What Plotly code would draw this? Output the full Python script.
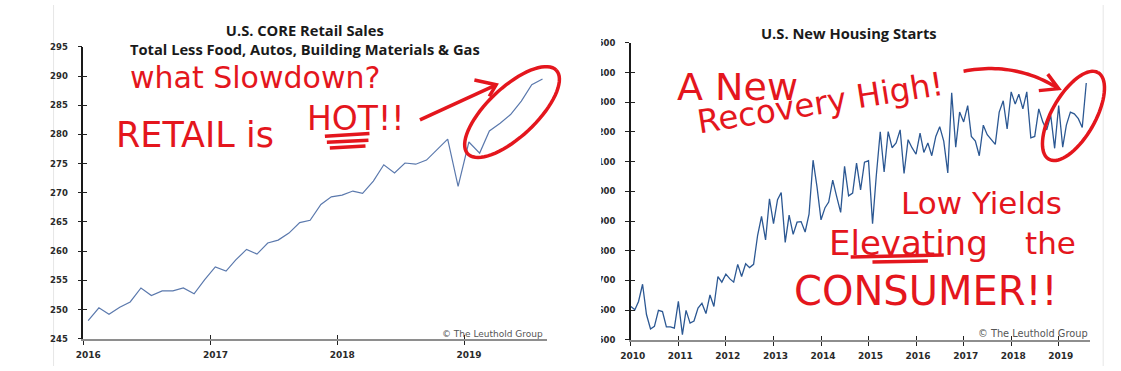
import numpy as np
import pandas as pd
import plotly.graph_objects as go

W, H = 1121, 371

# ---------------- data ----------------
retail_start = "2016-01-01"
retail_values = [248.1, 250.3, 249.2, 250.4, 251.3, 253.7, 252.4, 253.2, 253.2, 253.7, 252.7, 255.1,
                 257.3, 256.6, 258.5, 260.3, 259.5, 261.4, 261.9, 263.1, 264.9, 265.3, 268.0, 269.3,
                 269.6, 270.3, 269.9, 272.0, 274.8, 273.4, 275.1, 274.9, 275.6, 277.4, 279.2, 271.1,
                 278.7, 276.8, 280.6, 281.9, 283.4, 285.7, 288.5, 289.5]

housing_start = "2010-01-01"
housing_values = [612, 601, 629, 687, 585, 536, 545, 599, 595, 543, 543, 539,
                  629, 517, 599, 556, 563, 607, 623, 588, 651, 612, 713, 694,
                  721, 705, 694, 754, 713, 756, 743, 754, 852, 916, 836, 975,
                  891, 972, 996, 828, 920, 855, 896, 898, 863, 923, 1105, 1016,
                  904, 945, 964, 1038, 983, 929, 1084, 985, 994, 1095, 1005, 1098,
                  1103, 891, 1049, 1201, 1065, 1201, 1147, 1163, 1207, 1060, 1174, 1147,
                  1125, 1196, 1131, 1163, 1120, 1185, 1218, 1169, 1062, 1332, 1149, 1267,
                  1234, 1289, 1185, 1169, 1120, 1223, 1191, 1174, 1158, 1267, 1305, 1210,
                  1335, 1294, 1327, 1278, 1335, 1180, 1185, 1278, 1234, 1207, 1256, 1145,
                  1289, 1149, 1223, 1267, 1261, 1245, 1215, 1365]

retail_title = "U.S. CORE Retail Sales"
retail_subtitle = "Total Less Food, Autos, Building Materials & Gas"
housing_title = "U.S. New Housing Starts"
credit = "\u00a9 The Leuthold Group"

retail_dates = pd.date_range(retail_start, periods=len(retail_values), freq="MS") + pd.Timedelta(days=14)
housing_dates = pd.date_range(housing_start, periods=len(housing_values), freq="MS")

RED = "#e4161d"

def px(x):
    return x / W

def py(y):
    return 1 - y / H

def path_from(points, close=False):
    s = "M " + " L ".join(f"{px(x):.5f},{py(y):.5f}" for x, y in points)
    return s + (" Z" if close else "")

def ellipse_pts(cx, cy, a, b, ang_deg, n=72):
    t = np.linspace(0, 2 * np.pi, n)
    ang = np.radians(ang_deg)
    x = cx + a * np.cos(t) * np.cos(ang) - b * np.sin(t) * np.sin(ang)
    y = cy - (a * np.cos(t) * np.sin(ang) + b * np.sin(t) * np.cos(ang))
    return list(zip(x, y))

def quad_pts(p0, c, p1, n=30):
    t = np.linspace(0, 1, n)
    x = (1 - t) ** 2 * p0[0] + 2 * (1 - t) * t * c[0] + t ** 2 * p1[0]
    y = (1 - t) ** 2 * p0[1] + 2 * (1 - t) * t * c[1] + t ** 2 * p1[1]
    return list(zip(x, y))

fig = go.Figure()

fig.add_trace(go.Scatter(x=retail_dates, y=retail_values, mode="lines",
                         line=dict(color="#5b79ad", width=1.2), xaxis="x", yaxis="y",
                         showlegend=False, hoverinfo="skip"))
fig.add_trace(go.Scatter(x=housing_dates, y=housing_values, mode="lines",
                         line=dict(color="#2c5893", width=1.3), xaxis="x2", yaxis="y2",
                         showlegend=False, hoverinfo="skip"))
# empty traces that make the overlay (inside-tick) axes exist
for xa, ya in [("x3", "y"), ("x", "y3"), ("x4", "y2"), ("x2", "y4")]:
    fig.add_trace(go.Scatter(x=[None], y=[None], mode="lines", xaxis=xa, yaxis=ya,
                             showlegend=False, hoverinfo="skip"))

tick_font_x = dict(family="DejaVu Sans", size=9, color="#2a2a2a", weight="bold")
tick_font_y = dict(family="DejaVu Sans", size=8.5, color="#2a2a2a", weight="bold")

common_x = dict(type="date", dtick="M12", tickformat="%Y", showgrid=False, zeroline=False,
                fixedrange=True)
common_y = dict(showgrid=False, zeroline=False, fixedrange=True)

L_RANGE = ["2016-01-01", "2019-08-27"]
R_RANGE = ["2010-01-01", "2019-09-01"]

fig.update_layout(
    width=W, height=H, autosize=False,
    margin=dict(l=0, r=0, t=0, b=0),
    paper_bgcolor="white", plot_bgcolor="white",
    xaxis=dict(common_x, domain=[px(73), px(541)], range=L_RANGE, tick0="2016-01-01",
               anchor="y", ticks="outside", ticklen=4, tickwidth=1.2, tickcolor="#222",
               showline=True, linecolor="#8e8e8e", linewidth=2, tickfont=tick_font_x,
               ticklabelshift=5, ticklabelstandoff=2),
    yaxis=dict(common_y, domain=[py(343), py(43)], range=[245, 295], dtick=5, anchor="x",
               ticks="outside", ticklen=4, tickwidth=1.2, tickcolor="#222",
               showline=True, linecolor="#1a1a1a", linewidth=1.5, tickfont=tick_font_y,
               ticklabelstandoff=8),
    xaxis2=dict(common_x, domain=[px(626), px(1090)], range=R_RANGE, tick0="2010-01-01",
                anchor="y2", ticks="outside", ticklen=4, tickwidth=1.2, tickcolor="#222",
                showline=True, linecolor="#8e8e8e", linewidth=2, tickfont=tick_font_x,
                ticklabelshift=2, ticklabelstandoff=2),
    yaxis2=dict(common_y, domain=[py(344), py(39)], range=[500, 1500], dtick=100, anchor="x2",
                ticks="outside", ticklen=4, tickwidth=1.2, tickcolor="#222",
                showline=True, linecolor="#1a1a1a", linewidth=1.5, tickfont=tick_font_y,
                ticklabelstandoff=8),
    xaxis3=dict(common_x, overlaying="x", anchor="y", side="bottom", range=L_RANGE,
                tick0="2016-01-01", ticks="inside", ticklen=4, tickwidth=1.2, tickcolor="#222",
                showticklabels=False, showline=False),
    yaxis3=dict(common_y, overlaying="y", anchor="x", side="left", range=[245, 295], dtick=5,
                ticks="inside", ticklen=4, tickwidth=1.2, tickcolor="#222",
                showticklabels=False, showline=False),
    xaxis4=dict(common_x, overlaying="x2", anchor="y2", side="bottom", range=R_RANGE,
                tick0="2010-01-01", ticks="inside", ticklen=4, tickwidth=1.2, tickcolor="#222",
                showticklabels=False, showline=False),
    yaxis4=dict(common_y, overlaying="y2", anchor="x2", side="left", range=[500, 1500],
                dtick=100, ticks="inside", ticklen=4, tickwidth=1.2, tickcolor="#222",
                showticklabels=False, showline=False),
)

title_font = dict(family="Open Sans", size=14.7, color="#1a1a1a", weight="bold")
ann = []
ann.append(dict(text=retail_title + "<br>" + retail_subtitle, x=px(297), y=py(35), font=title_font))
ann.append(dict(text=housing_title, x=px(846), y=py(29), font=title_font))
ann.append(dict(text=credit, x=px(539), y=py(338), xanchor="right",
                font=dict(family="DejaVu Sans", size=9, color="#555")))
ann.append(dict(text=credit, x=px(1090), y=py(338), xanchor="right",
                font=dict(family="DejaVu Sans", size=9.8, color="#555")))

hand = "DejaVu Sans"
notes = [
    ("what Slowdown?", 246, 74.5, 30, 0),
    ("RETAIL is", 186, 134, 35, 0),
    ("HOT!!", 348, 116.5, 33, 0),
    ("A New", 734, 84, 38, 0),
    ("Recovery High!", 818, 101, 32.5, -9),
    ("Low Yields", 980, 203, 31, 0),
    ("Elevating", 906, 245, 34, 0),
    ("the", 1050, 245, 31, 0),
    ("CONSUMER!!", 924, 294, 40, 0),
]
for t, x, y, s, a in notes:
    ann.append(dict(text=t, x=px(x), y=py(y), textangle=a, font=dict(family=hand, size=s, color=RED)))

for a_ in ann:
    a_.setdefault("xanchor", "center")
    a_.update(xref="paper", yref="paper", yanchor="middle", showarrow=False)
fig.update_layout(annotations=ann)

shapes = []
# thin borders of the two pasted chart images
for xv in (43, 1103):
    shapes.append(dict(type="line", xref="paper", yref="paper", x0=px(xv), x1=px(xv), y0=0, y1=1,
                       line=dict(color="#e6e6e6", width=1), layer="below"))
# clipped edge of the right image (cuts its y tick labels)
shapes.append(dict(type="rect", xref="paper", yref="paper", x0=px(566), x1=px(596),
                   y0=py(365), y1=py(25), fillcolor="white", line=dict(width=0), layer="above"))

red_line = dict(color=RED, width=3.5)
marks = [
    # left: arrow, ellipse, underline of HOT
    (path_from([(413, 118), (490, 82)]), red_line),
    (path_from([(468, 77), (490, 82), (483, 94)]), red_line),
    (path_from(ellipse_pts(506, 110, 62, 25, 44)), red_line),
    (path_from([(317, 135), (362, 132)]), red_line),
    (path_from([(319, 141), (361, 139)]), red_line),
    (path_from([(322, 147), (358, 145)]), red_line),
    # right: curved arrow, ellipse, underline of "eva"
    (path_from(quad_pts((962, 68), (1015, 58), (1058, 86))), red_line),
    (path_from([(1047, 71), (1058, 86), (1038, 88)]), red_line),
    (path_from(ellipse_pts(1073, 114, 51, 22, 61)), red_line),
    (path_from([(848, 259), (942, 257)]), red_line),
    (path_from([(870, 264), (926, 263)]), red_line),
]
for p, ln in marks:
    shapes.append(dict(type="path", xref="paper", yref="paper", path=p, line=ln, layer="above"))

fig.update_layout(shapes=shapes)

fig.write_html("out.html")
